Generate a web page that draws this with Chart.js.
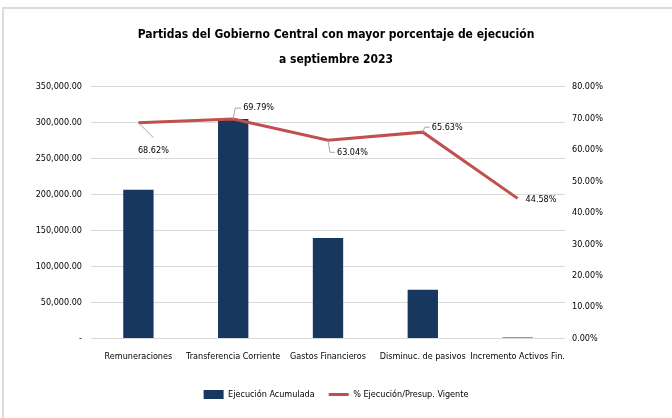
<!DOCTYPE html>
<html>
<head>
<meta charset="utf-8">
<title>Partidas del Gobierno Central</title>
<script src="https://cdn.jsdelivr.net/npm/chart.js@4.4.0/dist/chart.umd.min.js"></script>
<style>
    html, body { margin: 0; padding: 0; background: #fff; }
    #wrap { position: relative; width: 672px; height: 418px; overflow: hidden; }
    #wrap canvas { position: absolute; left: 0; top: 0; }
    /* marco gris claro del grafico (solo arriba e izquierda, como en el original) */
    #frame {
        position: absolute; left: 2px; top: 7px; right: 0; bottom: 0;
        border-top: 2px solid #dcdcdc; border-left: 2px solid #dcdcdc;
        pointer-events: none;
    }
</style>
</head>
<body>
<div id="wrap">
    <canvas id="ejecChart" width="672" height="418"></canvas>
    <div id="frame"></div>
</div>
<script>
// === DATOS ===
const categorias = [
    "Remuneraciones",
    "Transferencia Corriente",
    "Gastos Financieros",
    "Disminuc. de pasivos",
    "Incremento Activos Fin."
];
// Ejecucion acumulada (estimada del grafico)
const ejecucionAcumulada = [207000, 305500, 140000, 68000, 1500];
// % ejecucion / presupuesto vigente
const pctEjecucion = [68.62, 69.79, 63.04, 65.63, 44.58];

const ejeIzqMax = 350000;
const ejeIzqPaso = 50000;
const ejeDerMax = 80;
const ejeDerPaso = 10;

const FONT = "'DejaVu Sans Condensed', 'Liberation Sans Narrow', 'Liberation Sans', sans-serif";
const AZUL = "#17375e";
const ROJO = "#c0504d";
const TEXTO = "#000";

function fmtMiles(v) {
    if (v === 0) return "-";
    return v.toLocaleString("en-US", { minimumFractionDigits: 2, maximumFractionDigits: 2 });
}

// === ETIQUETAS DE LA LINEA (con lineas guia) ===
const etiquetasLinea = {
    id: "etiquetasLinea",
    afterDatasetsDraw(chart) {
        const meta = chart.getDatasetMeta(1);
        const ctx = chart.ctx;
        // desplazamientos de cada etiqueta respecto a su punto
        const pos = [
            { guia: [[15, 15]], tx: 15, ty: 28, align: "center" },
            { guia: [[2, -11], [8, -11]], tx: 10, ty: -11, align: "left" },
            { guia: [[2, 12], [7, 12]], tx: 9, ty: 12, align: "left" },
            { guia: [[2, -5], [7, -5]], tx: 9, ty: -5, align: "left" },
            { guia: [], tx: 8, ty: 1, align: "left" }
        ];
        ctx.save();
        meta.data.forEach((pt, i) => {
            const p = pos[i];
            if (p.guia.length) {
                ctx.beginPath();
                ctx.strokeStyle = "#a6a6a6";
                ctx.lineWidth = 1;
                ctx.moveTo(pt.x, pt.y);
                p.guia.forEach(([dx, dy]) => ctx.lineTo(pt.x + dx, pt.y + dy));
                ctx.stroke();
            }
            ctx.fillStyle = "#000";
            ctx.font = "9px " + FONT;
            ctx.textAlign = p.align;
            ctx.textBaseline = "middle";
            ctx.fillText(pctEjecucion[i].toFixed(2) + "%", pt.x + p.tx, pt.y + p.ty);
        });
        ctx.restore();
    }
};

const ctx = document.getElementById("ejecChart").getContext("2d");

new Chart(ctx, {
    type: "bar",
    data: {
        labels: categorias,
        datasets: [
            {
                label: "Ejecución Acumulada",
                data: ejecucionAcumulada,
                backgroundColor: AZUL,
                borderWidth: 0,
                barPercentage: 0.32,
                categoryPercentage: 1,
                pointStyle: "rect",
                yAxisID: "y",
                order: 1
            },
            {
                type: "line",
                label: "% Ejecución/Presup. Vigente",
                data: pctEjecucion,
                borderColor: ROJO,
                backgroundColor: ROJO,
                borderWidth: 3,
                pointRadius: 0,
                pointStyle: "line",
                tension: 0,
                yAxisID: "y1",
                order: 0
            }
        ]
    },
    options: {
        responsive: false,
        animation: false,
        devicePixelRatio: 1,
        layout: { padding: { top: 23, bottom: 9, left: 0, right: 0 } },
        plugins: {
            title: {
                display: true,
                text: ["Partidas del Gobierno Central con mayor porcentaje de ejecución", "a septiembre 2023"],
                color: "#000",
                font: { family: FONT, size: 12, weight: "bold", lineHeight: 2.04 },
                padding: { top: 0, bottom: 15 }
            },
            legend: {
                position: "bottom",
                labels: {
                    color: TEXTO,
                    font: { family: FONT, size: 9 },
                    usePointStyle: true,
                    pointStyleWidth: 20,
                    boxHeight: 10,
                    padding: 14,
                    sort: (a, b) => a.datasetIndex - b.datasetIndex
                }
            },
            tooltip: { enabled: false }
        },
        scales: {
            x: {
                grid: { display: false },
                border: { display: false },
                ticks: {
                    color: TEXTO,
                    font: { family: FONT, size: 9 },
                    maxRotation: 0,
                    autoSkip: false,
                    padding: 4.5
                },
                // titulo vacio: separa las etiquetas de la leyenda
                title: {
                    display: true,
                    text: " ",
                    font: { family: FONT, size: 8 },
                    padding: { top: 0, bottom: 0 }
                }
            },
            y: {
                position: "left",
                min: 0,
                max: ejeIzqMax,
                grid: { color: "#d9d9d9", lineWidth: 1, drawTicks: false },
                border: { display: false },
                ticks: {
                    stepSize: ejeIzqPaso,
                    color: TEXTO,
                    font: { family: FONT, size: 9 },
                    padding: 9,
                    callback: (v) => fmtMiles(v)
                },
                afterFit: (scale) => { scale.width = 91; }
            },
            y1: {
                position: "right",
                min: 0,
                max: ejeDerMax,
                grid: { drawOnChartArea: false, drawTicks: false },
                border: { display: false },
                ticks: {
                    stepSize: ejeDerPaso,
                    color: TEXTO,
                    font: { family: FONT, size: 9 },
                    padding: 7,
                    callback: (v) => v.toFixed(2) + "%"
                },
                afterFit: (scale) => { scale.width = 107; }
            }
        }
    },
    plugins: [etiquetasLinea]
});
</script>
</body>
</html>
